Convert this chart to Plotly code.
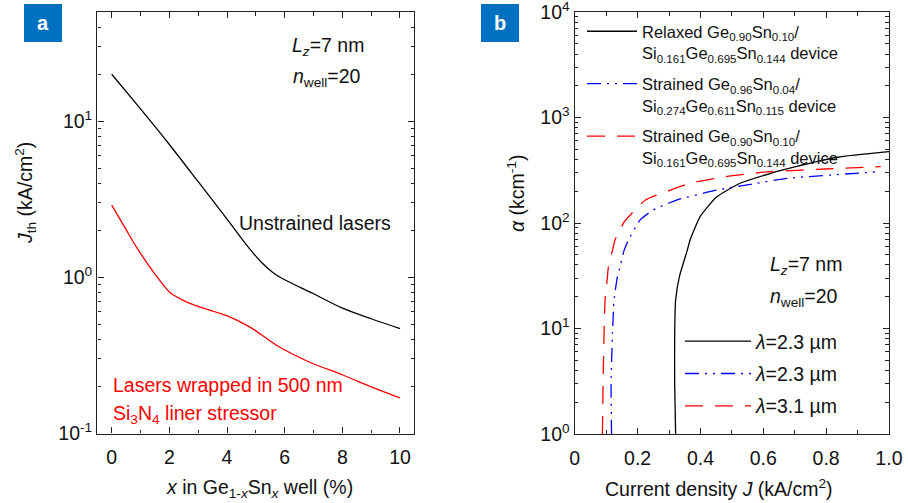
import plotly.graph_objects as go

W, H = 908, 503
FONT = "Liberation Sans, Arial, sans-serif"

# ---------------- Panel a data ----------------
xa_unstrained = [0, 1, 2, 3, 4, 4.8, 5.2, 5.6, 6.0, 7, 8, 9, 10]
ja_unstrained = [20, 12.0, 7.1, 4.1, 2.36, 1.51, 1.245, 1.072, 0.966, 0.785, 0.635, 0.543, 0.47]

xa_wrapped = [0, 0.5, 0.87, 1.5, 2.02, 2.5, 3.07, 3.99, 4.8, 5.73, 6.87, 8.04, 9, 10]
ja_wrapped = [2.9, 2.02, 1.55, 1.05, 0.80, 0.71, 0.644, 0.569, 0.48, 0.366, 0.286, 0.236, 0.199, 0.169]

# ---------------- Panel b data ----------------
jb_relaxed = [0.321, 0.318, 0.318, 0.321, 0.333, 0.358, 0.367, 0.399, 0.452, 0.526, 0.624, 0.70, 0.836, 1.0]
ab_relaxed = [1, 3, 9, 18.6, 31, 55, 69, 115, 177, 238, 296, 340, 420, 474]

jb_str004 = [0.117, 0.1155, 0.120, 0.125, 0.1357, 0.144, 0.157, 0.171, 0.208, 0.250, 0.324, 0.452, 0.579, 0.677, 0.974]
ab_str004 = [1, 3, 9, 18.6, 31, 38.5, 55, 69, 107, 133, 165, 205, 238, 265, 307]

jb_str010 = [0.088, 0.090, 0.0932, 0.0964, 0.104, 0.107, 0.120, 0.128, 0.158, 0.225, 0.305, 0.367, 0.48, 0.611, 0.80, 0.974]
ab_str010 = [1, 3, 9, 18.6, 31, 38.5, 55, 69, 103, 165, 205, 238, 275, 305, 325, 342]

names_b = [
    "Relaxed Ge<sub>0.90</sub>Sn<sub>0.10</sub>/<br>Si<sub>0.161</sub>Ge<sub>0.695</sub>Sn<sub>0.144</sub> device",
    "Strained Ge<sub>0.96</sub>Sn<sub>0.04</sub>/<br>Si<sub>0.274</sub>Ge<sub>0.611</sub>Sn<sub>0.115</sub> device",
    "Strained Ge<sub>0.90</sub>Sn<sub>0.10</sub>/<br>Si<sub>0.161</sub>Ge<sub>0.695</sub>Sn<sub>0.144</sub> device",
]
lambda_labels = ["<i>λ</i>=2.3 µm", "<i>λ</i>=2.3 µm", "<i>λ</i>=3.1 µm"]

xa_ticks = [0, 2, 4, 6, 8, 10]
ya_ticks = [0.1, 1, 10]
ya_ticktext = ["10<sup>-1</sup>", "10<sup>0</sup>", "10<sup>1</sup>"]
xb_ticks = [0, 0.2, 0.4, 0.6, 0.8, 1.0]
xb_ticktext = ["0", "0.2", "0.4", "0.6", "0.8", "1.0"]
yb_ticks = [1, 10, 100, 1000, 10000]
yb_ticktext = ["10<sup>0</sup>", "10<sup>1</sup>", "10<sup>2</sup>", "10<sup>3</sup>", "10<sup>4</sup>"]

BLACK = "#000000"
BLUE = "#0000FF"
RED = "#FF0000"
DASH_BLUE = "14px,6px,2px,6px,2px,6px"
DASH_RED = "18px,12px"
styles = [(BLACK, "solid"), (BLUE, DASH_BLUE), (RED, DASH_RED)]


def px(x):
    return x / W


def py(y):
    return 1 - y / H


def minor_log(lo, hi):
    vals = []
    d = lo
    while d < hi:
        for m in range(2, 10):
            v = m * d
            if v <= hi:
                vals.append(v)
        d *= 10
    return vals


fig = go.Figure()

fig.add_trace(go.Scatter(x=xa_unstrained, y=ja_unstrained, mode="lines",
                         line=dict(color=BLACK, width=1.3, shape="spline", smoothing=0.8),
                         xaxis="x", yaxis="y", showlegend=False))
fig.add_trace(go.Scatter(x=xa_wrapped, y=ja_wrapped, mode="lines",
                         line=dict(color=RED, width=1.3, shape="spline", smoothing=0.8),
                         xaxis="x", yaxis="y", showlegend=False))

for (jx, ay), name, (c, d) in zip([(jb_relaxed, ab_relaxed), (jb_str004, ab_str004), (jb_str010, ab_str010)],
                                  names_b, styles):
    fig.add_trace(go.Scatter(x=jx, y=ay, mode="lines", name=name,
                             line=dict(color=c, width=1.3, dash=d, shape="spline", smoothing=0.5),
                             xaxis="x2", yaxis="y2", legend="legend", legendgroup=name))

for lab, (c, d), i in zip(lambda_labels, styles, range(3)):
    fig.add_trace(go.Scatter(x=[None], y=[None], mode="lines", name=lab,
                             line=dict(color=c, width=1.3, dash=d),
                             xaxis="x2", yaxis="y2", legend="legend2", legendgroup="l%d" % i))

axcommon = dict(showline=True, linecolor="#222", linewidth=1.4, mirror="allticks",
                ticks="inside", ticklen=6, tickwidth=1.2, tickcolor="#222",
                showgrid=False, zeroline=False, automargin=False, ticklabeloverflow="allow",
                tickfont=dict(family=FONT, size=19.5, color="#111"))
minorcommon = dict(ticks="inside", ticklen=3.5, tickcolor="#222", tickwidth=1.2)

fig.update_layout(
    width=W, height=H, margin=dict(l=0, r=0, t=0, b=0, pad=0, autoexpand=False),
    paper_bgcolor="white", plot_bgcolor="white",
    font=dict(family=FONT, size=19.5, color="#111"),
    xaxis=dict(domain=[px(97.3), px(414.4)], range=[-0.5, 10.5], tickvals=xa_ticks,
               minor=dict(tickvals=[1, 3, 5, 7, 9], **minorcommon), ticklabelstandoff=6,
               anchor="y", **axcommon),
    yaxis=dict(domain=[py(433.5), py(12)], type="log", range=[-1.0003, 1.70], tickvals=ya_ticks,
               ticktext=ya_ticktext,
               minor=dict(tickvals=minor_log(0.1, 50), **minorcommon),
               anchor="x", **axcommon),
    xaxis2=dict(domain=[px(574.7), px(889)], range=[-0.0003, 1.0003], tickvals=xb_ticks, ticktext=xb_ticktext,
                minor=dict(tickvals=[0.1, 0.3, 0.5, 0.7, 0.9], **minorcommon), ticklabelstandoff=6,
                anchor="y2", **axcommon),
    yaxis2=dict(domain=[py(434), py(12)], type="log", range=[-0.0005, 4.0005], tickvals=yb_ticks, ticktext=yb_ticktext,
                minor=dict(tickvals=minor_log(1, 10000), **minorcommon),
                anchor="x2", **axcommon),
    legend=dict(x=px(582), y=py(14), xanchor="left", yanchor="top", bgcolor="rgba(0,0,0,0)",
                font=dict(family=FONT, size=16.5, color="#111"), itemwidth=50, valign="top",
                tracegroupgap=6.5, traceorder="grouped"),
    legend2=dict(x=px(680), y=py(322), xanchor="left", yanchor="top", bgcolor="rgba(0,0,0,0)",
                 font=dict(family=FONT, size=19.5, color="#111"), itemwidth=66,
                 tracegroupgap=4, traceorder="grouped"),
)

ann = []


def add_text(x, y, text, size=19.5, color="#111", angle=0, xanchor="center"):
    ann.append(dict(x=px(x), y=py(y), xref="paper", yref="paper", text=text, showarrow=False,
                    font=dict(family=FONT, size=size, color=color), textangle=angle,
                    xanchor=xanchor, yanchor="middle"))


# panel a texts
add_text(328, 47, "<i>L</i><sub><i>z</i></sub>=7 nm")
add_text(327, 77, "<i>n</i><sub>well</sub>=20")
add_text(237, 223, "Unstrained lasers", xanchor="left")
add_text(111, 385, "Lasers wrapped in 500 nm", color=RED, xanchor="left")
add_text(111, 414, "Si<sub>3</sub>N<sub>4</sub> liner stressor", color=RED, xanchor="left")
add_text(259, 488, "<i>x</i> in Ge<sub>1-<i>x</i></sub>Sn<sub><i>x</i></sub> well (%)")
add_text(25, 193, "<i>J</i><sub>th</sub> (kA/cm<sup>2</sup>)", angle=-90)

# panel b texts
add_text(806, 265, "<i>L</i><sub><i>z</i></sub>=7 nm")
add_text(804, 297, "<i>n</i><sub>well</sub>=20")
add_text(719, 488, "Current density <i>J</i> (kA/cm<sup>2</sup>)")
add_text(516, 194, "<i>α</i> (kcm<sup>-1</sup>)", angle=-90)

# panel labels
add_text(43, 23, "<b>a</b>", size=20, color="white")
add_text(500, 23, "<b>b</b>", size=20, color="white")

fig.update_layout(annotations=ann)
fig.update_layout(shapes=[
    dict(type="rect", xref="paper", yref="paper", x0=px(24), x1=px(62), y0=py(42), y1=py(4),
         fillcolor="#0070C0", line=dict(width=0), layer="below"),
    dict(type="rect", xref="paper", yref="paper", x0=px(481), x1=px(519), y0=py(42), y1=py(4),
         fillcolor="#0070C0", line=dict(width=0), layer="below"),
])

fig.write_html("out.html")
